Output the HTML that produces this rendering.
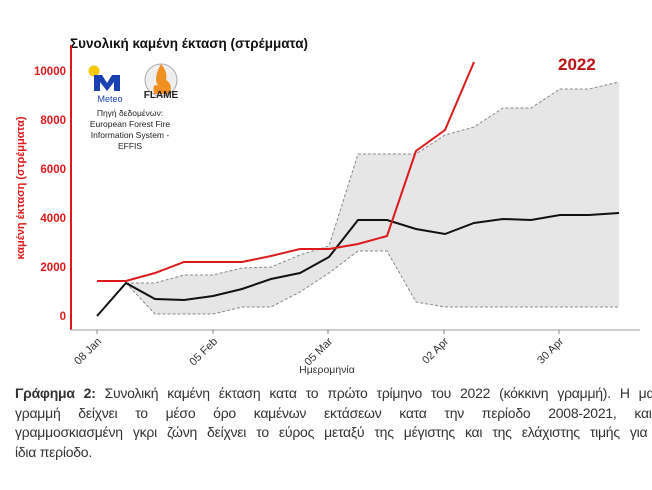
<!DOCTYPE html>
<html><head><meta charset="utf-8"><style>
body{margin:0;width:652px;height:490px;overflow:hidden;background:#fff;font-family:"Liberation Sans",sans-serif;position:relative}
.cap{position:absolute;left:15px;top:384px;width:662px;font-size:14px;line-height:19.5px;color:#333;letter-spacing:-0.25px}
.cap div{text-align:justify;text-align-last:justify;white-space:nowrap;height:19.5px}
.cap div.l{text-align-last:left}
</style></head><body>
<svg width="652" height="380" style="position:absolute;left:0;top:0" font-family="Liberation Sans, sans-serif">
<text x="70" y="48" font-size="13.5" font-weight="bold" fill="#111">Συνολική καμένη έκταση (στρέμματα)</text>
<text x="558" y="70" font-size="17" font-weight="bold" fill="#b81414">2022</text>
<polygon fill="#e6e6e6" points="126,283 155,283 184,275 213,275 242,268 271,267 300,255 329,246 358,154 387,154 416,154 445,135 474,127 503,108 531,108 560,89 589,89 619,82 619,307 589,307 560,307 531,307 503,307 474,307 445,307 416,302 387,251 358,251 329,273 300,292 271,307 242,307 213,314 184,314 155,314"/>
<polyline fill="none" stroke="#888" stroke-width="1" stroke-dasharray="3,2" points="126,283 155,283 184,275 213,275 242,268 271,267 300,255 329,246 358,154 387,154 416,154 445,135 474,127 503,108 531,108 560,89 589,89 619,82"/>
<polyline fill="none" stroke="#888" stroke-width="1" stroke-dasharray="3,2" points="126,283 155,314 184,314 213,314 242,307 271,307 300,292 329,273 358,251 387,251 416,302 445,307 474,307 503,307 531,307 560,307 589,307 619,307"/>
<polyline fill="none" stroke="#111" stroke-width="2" points="97,316 126,283 155,299 184,300 213,296 242,289 271,279 300,273 329,257 358,220 387,220 416,229 445,234 474,223 503,219 531,220 560,215 589,215 619,213"/>
<polyline fill="none" stroke="#dd1a1a" stroke-width="2" points="97,281 126,281 155,273 184,262 213,262 242,262 271,256 300,249 329,249 358,244 387,236 416,151 445,130 474,62"/>
<line x1="71" y1="45" x2="71" y2="330" stroke="#dd1a1a" stroke-width="2"/>
<line x1="71" y1="330" x2="640" y2="330" stroke="#bbb" stroke-width="1.5"/>
<g font-size="11.5" font-weight="bold" fill="#dd1a1a" text-anchor="end">
<text x="66" y="320">0</text><text x="66" y="271">2000</text><text x="66" y="222">4000</text><text x="66" y="173">6000</text><text x="66" y="124">8000</text><text x="66" y="75">10000</text></g>
<text transform="translate(24,188) rotate(-90)" font-size="11" font-weight="bold" fill="#dd1a1a" text-anchor="middle">καμένη έκταση (στρέμματα)</text>
<g stroke="#888"><line x1="97" y1="330" x2="97" y2="334"/><line x1="213" y1="330" x2="213" y2="334"/><line x1="328" y1="330" x2="328" y2="334"/><line x1="444" y1="330" x2="444" y2="334"/><line x1="559" y1="330" x2="559" y2="334"/></g>
<g font-size="11" fill="#333" text-anchor="end">
<text transform="translate(102,342) rotate(-45)">08 Jan</text>
<text transform="translate(218,342) rotate(-45)">05 Feb</text>
<text transform="translate(333,342) rotate(-45)">05 Mar</text>
<text transform="translate(449,342) rotate(-45)">02 Apr</text>
<text transform="translate(564,342) rotate(-45)">30 Apr</text></g>
<text x="327" y="373" font-size="10.5" fill="#333" text-anchor="middle">Ημερομηνία</text>
<circle cx="94" cy="71" r="5.5" fill="#f5c800"/>
<path d="M94,75 h8 l5,8 l5,-8 h8 v16 h-6 v-9 l-7,9 l-7,-9 v9 h-6 z" fill="#1a3fb0"/>
<text x="110" y="102" font-size="9" fill="#1a3fb0" text-anchor="middle">Meteo</text>
<circle cx="161" cy="80" r="16" fill="#eee" stroke="#aaa"/>
<path d="M161,64 q-8,14 -3,22 q-6,-4 -4,8 h16 q3,-10 -4,-14 q2,-8 -5,-16z" fill="#f09020"/>
<text x="161" y="98" font-size="10" font-weight="bold" fill="#222" text-anchor="middle">FLAME</text>
<g font-size="8.5" fill="#222" text-anchor="middle">
<text x="130" y="116">Πηγή δεδομένων:</text>
<text x="130" y="127">European Forest Fire</text>
<text x="130" y="138">Information System -</text>
<text x="130" y="149">EFFIS</text></g>
</svg>
<div class="cap">
<div><b>Γράφημα 2:</b> Συνολική καμένη έκταση κατα το πρώτο τρίμηνο του 2022 (κόκκινη γραμμή). Η μαύρη</div>
<div>γραμμή δείχνει το μέσο όρο καμένων εκτάσεων κατα την περίοδο 2008-2021, και η</div>
<div>γραμμοσκιασμένη γκρι ζώνη δείχνει το εύρος μεταξύ της μέγιστης και της ελάχιστης τιμής για την</div>
<div class="l">ίδια περίοδο.</div>
</div>
</body></html>
